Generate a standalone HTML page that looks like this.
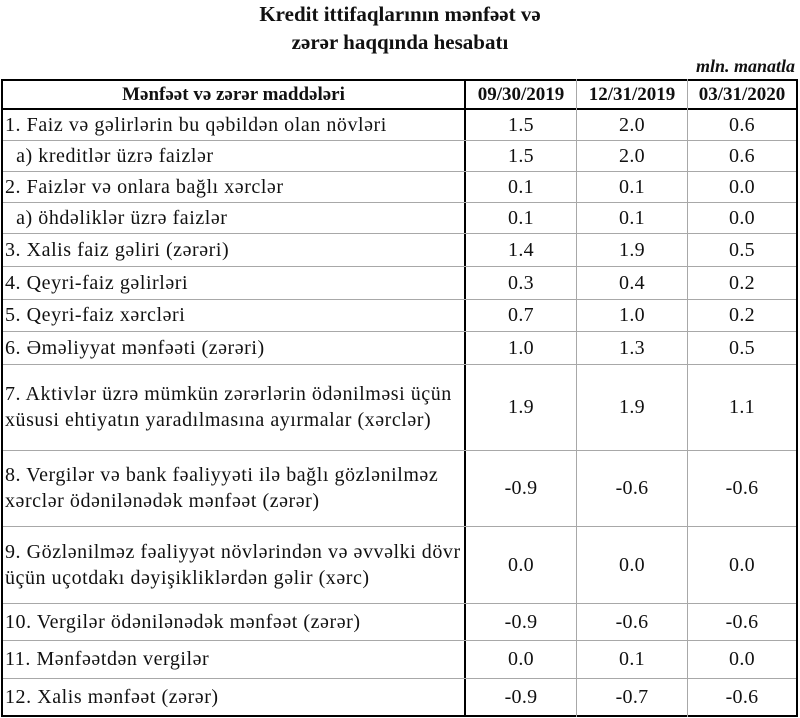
<!DOCTYPE html>
<html><head><meta charset="utf-8"><style>
body{margin:0;width:800px;height:718px;background:#fff;position:relative;font-family:"Liberation Serif",serif;color:#111;overflow:hidden}
.t{position:absolute;left:0;width:800px;text-align:center;font-weight:bold;font-size:21px}
.h{position:absolute;background:#a8a8a8;height:1px}
.v{position:absolute;background:#a8a8a8;width:1px}
.k{position:absolute;background:#000}
.c{position:absolute;display:flex;align-items:center;font-size:20px;line-height:26px;letter-spacing:0.55px;white-space:nowrap}
.n{justify-content:center;letter-spacing:0.3px}
.hd{font-weight:bold;font-size:19px;justify-content:center;letter-spacing:0}
</style></head><body>
<div class="t" style="top:2px">Kredit ittifaqlarının mənfəət və</div>
<div class="t" style="top:30px">zərər haqqında hesabatı</div>
<div style="position:absolute;right:5px;top:56px;font-style:italic;font-weight:bold;font-size:18px">mln. manatla</div>

<div class="k" style="left:1px;top:79px;width:797px;height:2px"></div>
<div class="k" style="left:1px;top:108px;width:797px;height:2px"></div>
<div class="k" style="left:1px;top:715px;width:797px;height:2px"></div>
<div class="k" style="left:1px;top:79px;width:2px;height:638px"></div>
<div class="k" style="left:796px;top:79px;width:2px;height:638px"></div>
<div class="k" style="left:464px;top:79px;width:2px;height:638px"></div>
<div class="v" style="left:576px;top:79px;height:638px"></div>
<div class="v" style="left:687px;top:79px;height:638px"></div>

<div class="h" style="left:3px;top:140px;width:793px"></div>
<div class="h" style="left:3px;top:171px;width:793px"></div>
<div class="h" style="left:3px;top:202px;width:793px"></div>
<div class="h" style="left:3px;top:233px;width:793px"></div>
<div class="h" style="left:3px;top:266px;width:793px"></div>
<div class="h" style="left:3px;top:299px;width:793px"></div>
<div class="h" style="left:3px;top:331px;width:793px"></div>
<div class="h" style="left:3px;top:364px;width:793px"></div>
<div class="h" style="left:3px;top:450px;width:793px"></div>
<div class="h" style="left:3px;top:526px;width:793px"></div>
<div class="h" style="left:3px;top:603px;width:793px"></div>
<div class="h" style="left:3px;top:640px;width:793px"></div>
<div class="h" style="left:3px;top:678px;width:793px"></div>

<div class="c hd" style="left:3px;width:461px;top:81px;height:27px">Mənfəət və zərər maddələri</div>
<div class="c hd" style="left:466px;width:110px;top:81px;height:27px">09/30/2019</div>
<div class="c hd" style="left:577px;width:110px;top:81px;height:27px">12/31/2019</div>
<div class="c hd" style="left:688px;width:108px;top:81px;height:27px">03/31/2020</div>

<div id="rows"></div>
<script>
var R=[[110,140,"1. Faiz və gəlirlərin bu qəbildən olan növləri","1.5","2.0","0.6"],
[140,171,"&nbsp;&nbsp;a) kreditlər üzrə faizlər","1.5","2.0","0.6"],
[171,202,"2. Faizlər və onlara bağlı xərclər","0.1","0.1","0.0"],
[202,233,"&nbsp;&nbsp;a) öhdəliklər üzrə faizlər","0.1","0.1","0.0"],
[233,266,"3. Xalis faiz gəliri (zərəri)","1.4","1.9","0.5"],
[266,299,"4. Qeyri-faiz gəlirləri","0.3","0.4","0.2"],
[299,331,"5. Qeyri-faiz xərcləri","0.7","1.0","0.2"],
[331,364,"6. Əməliyyat mənfəəti (zərəri)","1.0","1.3","0.5"],
[364,450,"7. Aktivlər üzrə mümkün zərərlərin ödənilməsi üçün<br>xüsusi ehtiyatın yaradılmasına ayırmalar (xərclər)","1.9","1.9","1.1"],
[450,526,"8. Vergilər və bank fəaliyyəti ilə bağlı gözlənilməz<br>xərclər ödənilənədək mənfəət (zərər)","-0.9","-0.6","-0.6"],
[526,603,"9. Gözlənilməz fəaliyyət növlərindən və əvvəlki dövr<br>üçün uçotdakı dəyişikliklərdən gəlir (xərc)","0.0","0.0","0.0"],
[603,640,"10. Vergilər ödənilənədək mənfəət (zərər)","-0.9","-0.6","-0.6"],
[640,678,"11. Mənfəətdən vergilər","0.0","0.1","0.0"],
[678,715,"12. Xalis mənfəət (zərər)","-0.9","-0.7","-0.6"]];
var h="";R.forEach(function(r){var t=r[0],H=r[1]-r[0];
h+='<div class="c" style="left:5px;width:458px;top:'+t+'px;height:'+H+'px">'+r[2]+'</div>';
h+='<div class="c n" style="left:466px;width:110px;top:'+t+'px;height:'+H+'px">'+r[3]+'</div>';
h+='<div class="c n" style="left:577px;width:110px;top:'+t+'px;height:'+H+'px">'+r[4]+'</div>';
h+='<div class="c n" style="left:688px;width:108px;top:'+t+'px;height:'+H+'px">'+r[5]+'</div>';});
document.getElementById("rows").innerHTML=h;
</script>
</body></html>
